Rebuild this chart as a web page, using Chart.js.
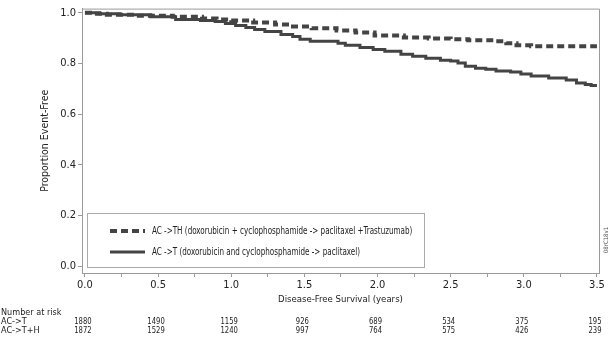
<!DOCTYPE html>
<html>
<head>
<meta charset="utf-8">
<script src="https://cdn.jsdelivr.net/npm/chart.js@4"></script>
<style>
  html, body { margin: 0; padding: 0; background: #fff; }
  #wrap { width: 613px; height: 346px; position: relative; }
</style>
</head>
<body>
<div id="wrap"><canvas id="dfsChart" width="613" height="346"></canvas></div>
<script>
// Kaplan-Meier estimates (years, proportion event-free)
const timesTH = [0, 0.05, 0.15, 0.35, 0.6, 0.8, 0.9, 1.0, 1.15, 1.3, 1.4, 1.55, 1.72, 1.85, 1.98, 2.18, 2.35, 2.5, 2.62, 2.8, 2.88, 2.95, 3.05, 3.5];
const survTH  = [1.0, 0.996, 0.992, 0.988, 0.984, 0.977, 0.973, 0.969, 0.961, 0.953, 0.945, 0.938, 0.93, 0.922, 0.91, 0.902, 0.898, 0.895, 0.891, 0.887, 0.879, 0.871, 0.867, 0.867];

const timesT = [0, 0.10, 0.24, 0.45, 0.62, 0.79, 0.89, 0.96, 1.03, 1.10, 1.16, 1.23, 1.34, 1.42, 1.47, 1.54, 1.73, 1.78, 1.88, 1.97, 2.05, 2.16, 2.24, 2.33, 2.43, 2.50, 2.55, 2.60, 2.67, 2.74, 2.81, 2.91, 2.98, 3.05, 3.17, 3.29, 3.36, 3.42, 3.46, 3.5];
const survT  = [1.0, 0.996, 0.992, 0.984, 0.973, 0.969, 0.965, 0.957, 0.949, 0.941, 0.934, 0.926, 0.914, 0.906, 0.895, 0.887, 0.879, 0.871, 0.863, 0.855, 0.848, 0.836, 0.828, 0.82, 0.812, 0.809, 0.801, 0.789, 0.781, 0.777, 0.77, 0.766, 0.758, 0.75, 0.742, 0.734, 0.723, 0.717, 0.713, 0.713];

const xTicks = [0, 0.25, 0.5, 0.75, 1.0, 1.25, 1.5, 1.75, 2.0, 2.25, 2.5, 2.75, 3.0, 3.25, 3.5];
const yTicks = [0, 0.2, 0.4, 0.6, 0.8, 1.0];

// number at risk table
const riskTimes = [0, 0.5, 1.0, 1.5, 2.0, 2.5, 3.0, 3.5];
const riskT  = [1880, 1490, 1159, 926, 689, 534, 375, 195];
const riskTH = [1872, 1529, 1240, 997, 764, 575, 426, 239];

const FONT = "'DejaVu Sans Condensed', 'Liberation Sans', sans-serif";
const INK = '#222';
const LINE = '#444';
const AXIS = '#9a9a9a';

Chart.defaults.font.family = FONT;
Chart.defaults.color = INK;

function toPoints(xs, ys) {
    return xs.map((x, i) => ({ x: x, y: ys[i] }));
}

// narrow text: squeeze horizontally around the anchor point
function narrowText(ctx, text, x, y, squeeze) {
    ctx.save();
    ctx.translate(x, y);
    ctx.scale(squeeze, 1);
    ctx.fillText(text, 0, 0);
    ctx.restore();
}

// frame, legend box, risk table and side code
const extras = {
    id: 'extras',
    afterDraw(chart) {
        const ctx = chart.ctx;
        const area = chart.chartArea;
        const xs = chart.scales.x;

        ctx.save();
        ctx.strokeStyle = AXIS;
        ctx.lineWidth = 1;
        ctx.beginPath();
        ctx.moveTo(area.left, area.top + 0.5);
        ctx.lineTo(area.right + 0.5, area.top + 0.5);
        ctx.lineTo(area.right + 0.5, area.bottom);
        ctx.stroke();

        // legend inside the plot
        const bx = area.left + 5, by = area.bottom - 60, bw = 337, bh = 54;
        ctx.fillStyle = '#fff';
        ctx.fillRect(bx, by, bw, bh);
        ctx.strokeStyle = '#aaa';
        ctx.strokeRect(bx + 0.5, by + 0.5, bw, bh);
        ctx.font = '10px ' + FONT;
        ctx.textBaseline = 'middle';
        ctx.textAlign = 'left';
        chart.data.datasets.forEach((ds, i) => {
            const ly = by + 18 + i * 21;
            ctx.strokeStyle = ds.borderColor;
            ctx.lineWidth = ds.borderWidth;
            ctx.setLineDash(ds.borderDash || []);
            ctx.beginPath();
            ctx.moveTo(bx + 23, ly);
            ctx.lineTo(bx + 58, ly);
            ctx.stroke();
            ctx.setLineDash([]);
            ctx.fillStyle = INK;
            narrowText(ctx, ds.label, bx + 65, ly, 0.8);
        });

        // number at risk
        ctx.font = '9.5px ' + FONT;
        ctx.fillStyle = INK;
        ctx.textAlign = 'left';
        narrowText(ctx, 'Number at risk', 1, 313, 0.95);
        narrowText(ctx, 'AC->T', 1, 322, 0.95);
        narrowText(ctx, 'AC->T+H', 1, 331, 0.95);
        ctx.textAlign = 'center';
        riskTimes.forEach((t, i) => {
            const px = xs.getPixelForValue(t) - 2;
            narrowText(ctx, String(riskT[i]), px, 322, 0.8);
            narrowText(ctx, String(riskTH[i]), px, 331, 0.8);
        });

        // figure code on the right edge
        ctx.translate(606, 240);
        ctx.rotate(-Math.PI / 2);
        ctx.font = '6px ' + FONT;
        ctx.fillStyle = '#555';
        ctx.fillText('08rC18v1', 0, 0);
        ctx.restore();
    }
};

const ctx = document.getElementById('dfsChart').getContext('2d');
new Chart(ctx, {
    type: 'line',
    data: {
        datasets: [{
            label: 'AC ->TH (doxorubicin + cyclophosphamide -> paclitaxel +Trastuzumab)',
            data: toPoints(timesTH, survTH),
            borderColor: LINE,
            borderWidth: 4,
            borderDash: [7, 4],
            stepped: 'before',
            pointRadius: 0,
            fill: false
        }, {
            label: 'AC ->T (doxorubicin and cyclophosphamide -> paclitaxel)',
            data: toPoints(timesT, survT),
            borderColor: LINE,
            borderWidth: 3,
            stepped: 'before',
            pointRadius: 0,
            fill: false
        }]
    },
    options: {
        responsive: false,
        animation: false,
        layout: { padding: { left: 0, top: 6, right: 14, bottom: 41 } },
        plugins: {
            legend: { display: false },
            tooltip: { enabled: false }
        },
        scales: {
            x: {
                type: 'linear',
                min: -0.02,
                max: 3.514,
                afterBuildTicks: s => { s.ticks = xTicks.map(v => ({ value: v })); },
                afterFit: s => { s.height = 32; },
                ticks: {
                    font: { size: 11 },
                    padding: 2,
                    maxRotation: 0,
                    autoSkip: false,
                    callback: v => (Math.abs(v * 2 - Math.round(v * 2)) < 1e-6 ? v.toFixed(1) : '')
                },
                grid: { drawOnChartArea: false, tickLength: 4, color: AXIS },
                border: { color: AXIS },
                title: {
                    display: true,
                    text: 'Disease-Free Survival (years)',
                    font: { size: 9.5 },
                    padding: { top: 0, bottom: 0 }
                }
            },
            y: {
                type: 'linear',
                min: -0.027,
                max: 1.016,
                afterBuildTicks: s => { s.ticks = yTicks.map(v => ({ value: v })); },
                afterFit: s => { s.width = 82; },
                ticks: {
                    font: { size: 11 },
                    padding: 2,
                    callback: v => v.toFixed(1)
                },
                grid: { drawOnChartArea: false, tickLength: 4, color: AXIS },
                border: { color: AXIS },
                title: {
                    display: true,
                    text: 'Proportion Event-Free',
                    font: { size: 10.5 },
                    padding: { top: 39, bottom: 0 }
                }
            }
        }
    },
    plugins: [extras]
});
</script>
</body>
</html>
